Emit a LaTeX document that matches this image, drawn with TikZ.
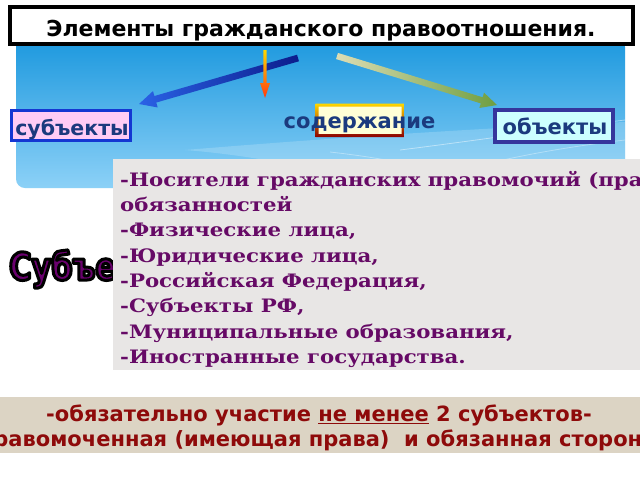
\documentclass[tikz,border=0pt]{standalone}
\usepackage{fontspec}
\usetikzlibrary{calc}
\newfontfamily\dvsans{DejaVu Sans}
\newfontfamily\dvcond{DejaVu Sans}[FakeStretch=0.8]
\newfontfamily\dvserif{DejaVu Serif}[FakeStretch=1.15]
\definecolor{panelTop}{HTML}{1C98DE}
\definecolor{panelBot}{HTML}{8CD1F7}
\definecolor{subjFill}{HTML}{FFCCF5}
\definecolor{subjLine}{HTML}{1437D2}
\definecolor{objFill}{HTML}{CCFFFF}
\definecolor{objLine}{HTML}{35359C}
\definecolor{contFill}{HTML}{FFFFD6}
\definecolor{labelBlue}{HTML}{1B3A7E}
\definecolor{listGray}{HTML}{E8E6E5}
\definecolor{listPurple}{HTML}{660A66}
\definecolor{bandBeige}{HTML}{DCD4C4}
\definecolor{bandRed}{HTML}{8E0A0A}
\definecolor{bigPurple}{HTML}{6A006E}
\definecolor{arrDark}{HTML}{0C1C8C}
\definecolor{arrLight}{HTML}{2A62E6}
\definecolor{arrBeige}{HTML}{DCDDB4}
\definecolor{arrGreen}{HTML}{6E9E40}
\definecolor{arrYellow}{HTML}{FFD800}
\definecolor{arrRed}{HTML}{FF3A10}
\tikzset{
  boxlabel/.style={font=\dvsans\bfseries\fontsize{21}{24}\selectfont, text=labelBlue, inner sep=0pt, anchor=base},
  bandtext/.style={anchor=base, inner sep=0pt, text=bandRed, font=\dvsans\bfseries\fontsize{21}{24}\selectfont},
}
\newcommand{\fatarrow}[6]{% start, tip, half shaft, half head, head length, shading
  \path ($(#2)!#5!(#1)$) coordinate (hb);
  \shade[#6] ($(#1)!#3!90:(#2)$) -- ($(hb)!#3!-90:(#1)$) -- ($(hb)!#4!-90:(#1)$) -- (#2)
  -- ($(hb)!#4!90:(#1)$) -- ($(hb)!#3!90:(#1)$) -- ($(#1)!#3!-90:(#2)$) -- cycle;}
\begin{document}
\begin{tikzpicture}[x=1pt,y=-1pt]
\useasboundingbox (0,0) rectangle (640,480);
\fill[white] (0,0) rectangle (640,480);
\begin{scope}
\clip (0,0) rectangle (640,480);
% blue panel
\shade[top color=panelTop, bottom color=panelBot, rounded corners=9pt] (16,38) rectangle (625,188);
% faint swooshes
\fill[white, opacity=0.18] (185,150) .. controls (330,138) and (480,128) .. (625,122) -- (625,188) -- (380,188) .. controls (330,170) and (250,155) .. (185,150) -- cycle;
\draw[white, opacity=0.45, line width=0.8pt] (400,150) .. controls (480,140) and (560,128) .. (625,120);
\draw[white, opacity=0.35, line width=0.8pt] (410,186) .. controls (470,165) and (540,150) .. (625,140);
\draw[white, opacity=0.35, line width=0.8pt] (330,152) .. controls (400,160) and (440,170) .. (470,188);
% title
\node[draw=black, fill=white, line width=4pt, minimum width=623pt, minimum height=37pt, inner sep=0pt] (title) at (321.5,25.5) {};
\node[font=\dvsans\bfseries\fontsize{22}{26}\selectfont, inner sep=0pt, anchor=base] (titletext) at (321,36) {Элементы гражданского правоотношения.};
% arrows
\coordinate (bs) at (298,58);  \coordinate (bt) at (139,104);
\coordinate (os) at (265,50);  \coordinate (ot) at (265,98);
\coordinate (gs) at (337,56);  \coordinate (gt) at (497,105);
\fatarrow{bs}{bt}{3.4pt}{8.5pt}{17pt}{left color=arrLight, right color=arrDark}
\fatarrow{os}{ot}{1.6pt}{5pt}{15pt}{top color=arrYellow, bottom color=arrRed}
\fatarrow{gs}{gt}{3.2pt}{8pt}{16pt}{left color=arrBeige, right color=arrGreen}
% boxes
\node[draw=subjLine, fill=subjFill, line width=3pt, minimum width=119pt, minimum height=30pt, inner sep=0pt] (subj) at (71,125.5) {};
\node[boxlabel, font=\dvsans\bfseries\fontsize{20.5}{24}\selectfont] (subjtext) at (72,135) {субъекты};
\node[draw=objLine, fill=objFill, line width=4pt, minimum width=118pt, minimum height=32pt, inner sep=0pt] (obj) at (554,126) {};
\node[boxlabel] (objtext) at (555,134) {объекты};
\node[fill=contFill, minimum width=86pt, minimum height=31pt, inner sep=0pt] (cont) at (360,120) {};
\shade[top color=arrYellow, bottom color=red!55!black, even odd rule]
  (315.5,103.5) rectangle (404.5,137) (318.5,106.5) rectangle (401.5,134);
\node[boxlabel] (conttext) at (359.5,128) {содержание};
% big outlined word
\node[anchor=base west, inner sep=0pt, text=bigPurple, font=\dvcond\bfseries\fontsize{38}{40}\selectfont] (bigword) at (9,280) {\special{pdf:literal direct 2 Tr 3 w 0 G 1 j}Субъекты\special{pdf:literal direct 0 Tr}};
% list box
\node[fill=listGray, minimum width=540pt, minimum height=211pt, inner sep=0pt, anchor=north west] (listbox) at (113,159) {};
\node[anchor=north west, inner sep=0pt, align=left, text=listPurple, font=\dvserif\bfseries\fontsize{18.5}{25.3}\selectfont] (listtext) at (120,171) {-Носители гражданских правомочий (прав и\\обязанностей\\-Физические лица,\\-Юридические лица,\\-Российская Федерация,\\-Субъекты РФ,\\-Муниципальные образования,\\-Иностранные государства.};
% bottom band
\node[fill=bandBeige, minimum width=660pt, minimum height=56pt, inner sep=0pt, anchor=north] (band) at (320,397) {};
\node[bandtext] (bandline1) at (319,421) {-обязательно участие \underline{не менее} 2 субъектов-};
\node[bandtext] (bandline2) at (320,446) {правомоченная (имеющая права)~ и обязанная стороны};
\end{scope}
\end{tikzpicture}
\end{document}
